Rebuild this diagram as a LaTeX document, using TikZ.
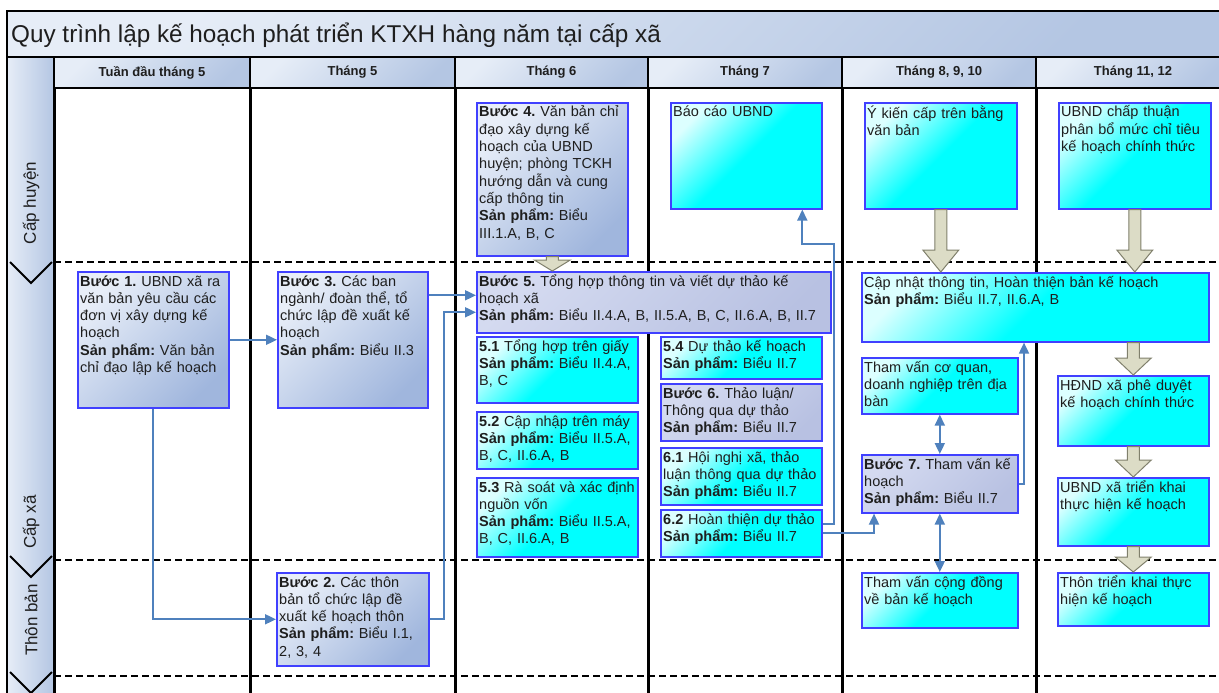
\documentclass[tikz,border=0pt]{standalone}
\usepackage{fontspec}
\setmainfont{Liberation Sans}
\usetikzlibrary{arrows.meta,calc}

\definecolor{boxblue}{RGB}{64,64,255}
\definecolor{steellight}{RGB}{232,238,248}
\definecolor{steeldark}{RGB}{160,182,221}
\definecolor{lavlight}{RGB}{212,218,240}
\definecolor{lavdark}{RGB}{184,193,226}
\definecolor{cyanlight}{RGB}{220,255,255}
\definecolor{headlight}{RGB}{230,237,247}
\definecolor{headdark}{RGB}{180,198,227}
\definecolor{connblue}{RGB}{79,129,189}
\definecolor{khaki}{RGB}{220,220,198}
\definecolor{khakiline}{RGB}{128,128,108}
\definecolor{inkgray}{RGB}{30,30,30}

\tikzset{
  frameline/.style={black, line width=2pt},
  colline/.style={black, line width=3pt},
  rowline/.style={black, line width=2.6pt, dash pattern=on 7pt off 4pt},
  headcell/.style={draw=black, line width=2pt, top color=headlight, bottom color=headdark, shading angle=45,
    inner sep=0pt, minimum height=31pt, font=\fontsize{13}{15}\selectfont\bfseries, text=inkgray},
  lanelabel/.style={rotate=90, inner sep=0pt, font=\fontsize{17}{20}\selectfont, text=inkgray},
  chevron/.style={black, line width=2pt, line join=miter},
  stepbox/.style={draw=boxblue, line width=1.6pt, top color=steellight, bottom color=steeldark, shading angle=45,
    anchor=north west, inner sep=0pt},
  substep/.style={stepbox, top color=lavlight, bottom color=lavdark, shading angle=45},
  cyanbox/.style={stepbox, top color=cyanlight, bottom color=cyan, middle color=cyan, shading angle=45},
  boxtext/.style={anchor=base west, align=left, text width=360pt, inner sep=0pt,
    font=\fontsize{14.5}{17.3}\selectfont\frenchspacing, text=inkgray},
  conn/.style={draw=connblue, line width=1.8pt, arrows={-Triangle[length=11pt,width=10pt]}},
  conn2/.style={draw=connblue, line width=1.8pt, arrows={Triangle[length=11pt,width=10pt]-Triangle[length=11pt,width=10pt]}},
  bigarrow/.style={fill=khaki, draw=khakiline, line width=1pt, line join=miter}
}

% wide khaki arrow between two boxes
\newcommand{\blockarrow}[3][18pt]{%
  \filldraw[bigarrow] let \p1=(#2), \p2=(#3) in
    (\x1-6pt,\y1) -- (\x1-6pt,\y2+#1) -- (\x1-18pt,\y2+#1) -- (\x1,\y2)
    -- (\x1+18pt,\y2+#1) -- (\x1+6pt,\y2+#1) -- (\x1+6pt,\y1) -- cycle;}

\begin{document}
\begin{tikzpicture}[x=1pt, y=-1pt]
  \useasboundingbox (0,0) rectangle (1219,693);
  \clip (0,0) rectangle (1219,693);

  % Title bar
  \draw[frameline, top color=headlight, bottom color=headdark, shading angle=45] (7,11) rectangle (1240,57);
  \node[anchor=base west, inner sep=0pt, font=\fontsize{24.3}{28}\selectfont, text=inkgray] (title)
    at (11,43) {Quy trình lập kế hoạch phát triển KTXH hàng năm tại cấp xã};

  % Lane column
  \draw[frameline, left color=headlight, right color=headdark] (7,57) rectangle (54,700);
  \node[lanelabel] (lhuyen) at (31,203) {Cấp huyện};
  \node[lanelabel] (lxa) at (31,522) {Cấp xã};
  \node[lanelabel] (lthon) at (31,620) {Thôn bản};
  \foreach \yv in {262,556,672}
    \draw[chevron] (10,\yv) -- (31,\yv+21) -- (52,\yv);

  % Columns
  \foreach \xc in {54,250,455,648,842,1036}
    \draw[colline] (\xc,88) -- (\xc,700);
  \foreach \yr in {262,560,676}
    \draw[rowline] (54,\yr) -- (1219,\yr);
  \foreach \xa/\xb/\hname/\htext in {%
    54/250/t5a/Tuần đầu tháng 5,%
    250/455/t5/Tháng 5,%
    455/648/t6/Tháng 6,%
    648/842/t7/Tháng 7,%
    842/1036/t8/{Tháng 8, 9, 10},%
    1036/1230/t11/{Tháng 11, 12}%
  }{
    \node[headcell, minimum width={\xb-\xa}] (h\hname) at ({(\xa+\xb)/2},72.5) {\htext};
  }

  % Cap huyen
  \node[stepbox, minimum width=151pt, minimum height=153pt] (b4) at (476,102) {};
  \node[cyanbox, minimum width=151pt, minimum height=106pt] (bc) at (670,102) {};
  \node[cyanbox, minimum width=152pt, minimum height=106pt] (yk) at (864,102) {};
  \node[cyanbox, minimum width=152pt, minimum height=106pt] (ct) at (1058,102) {};

  % Cap xa
  \node[stepbox, minimum width=151pt, minimum height=136pt] (b1) at (77,271) {};
  \node[stepbox, minimum width=150pt, minimum height=136pt] (b3) at (277,271) {};
  \node[substep, minimum width=354pt, minimum height=61pt] (b5) at (476,271) {};
  \node[cyanbox, minimum width=161pt, minimum height=66pt] (b51) at (476,336) {};
  \node[cyanbox, minimum width=161pt, minimum height=57pt] (b52) at (476,411) {};
  \node[cyanbox, minimum width=161pt, minimum height=79pt] (b53) at (476,477) {};
  \node[cyanbox, minimum width=161pt, minimum height=42pt] (b54) at (660,336) {};
  \node[substep, minimum width=161pt, minimum height=57pt] (b6) at (660,383) {};
  \node[cyanbox, minimum width=161pt, minimum height=57pt] (b61) at (660,447) {};
  \node[cyanbox, minimum width=161pt, minimum height=47pt] (b62) at (660,509) {};
  \node[cyanbox, minimum width=347pt, minimum height=69pt] (cn) at (861,272) {};
  \node[cyanbox, minimum width=156pt, minimum height=56pt] (tvcq) at (861,357) {};
  \node[substep, minimum width=156pt, minimum height=58pt] (b7) at (861,454) {};
  \node[cyanbox, minimum width=151pt, minimum height=70pt] (hd) at (1057,375) {};
  \node[cyanbox, minimum width=151pt, minimum height=68pt] (ubtk) at (1057,477) {};

  % Thon ban
  \node[stepbox, minimum width=152pt, minimum height=93pt] (b2) at (276,572) {};
  \node[cyanbox, minimum width=156pt, minimum height=55pt] (tvcd) at (861,572) {};
  \node[cyanbox, minimum width=151pt, minimum height=53pt] (thontk) at (1057,572) {};

  % Box texts
  \node[boxtext] (tb4) at ([xshift=3pt,yshift=-15pt]b4.north west) {\textbf{Bước 4.} Văn bản chỉ\\đạo xây dựng kế\\hoạch của UBND\\huyện; phòng TCKH\\hướng dẫn và cung\\cấp thông tin\\\textbf{Sản phẩm:} Biểu\\III.1.A, B, C};
  \node[boxtext] (tbc) at ([xshift=3pt,yshift=-15pt]bc.north west) {Báo cáo UBND};
  \node[boxtext] (tyk) at ([xshift=3pt,yshift=-16pt]yk.north west) {Ý kiến cấp trên bằng\\văn bản};
  \node[boxtext] (tct) at ([xshift=3pt,yshift=-15pt]ct.north west) {UBND chấp thuận\\phân bổ mức chỉ tiêu\\kế hoạch chính thức};
  \node[boxtext] (tb1) at ([xshift=3pt,yshift=-15pt]b1.north west) {\textbf{Bước 1.} UBND xã ra\\văn bản yêu cầu các\\đơn vị xây dựng kế\\hoạch\\\textbf{Sản phẩm:} Văn bản\\chỉ đạo lập kế hoạch};
  \node[boxtext] (tb3) at ([xshift=3pt,yshift=-15pt]b3.north west) {\textbf{Bước 3.} Các ban\\ngành/ đoàn thể, tổ\\chức lập đề xuất kế\\hoạch\\\textbf{Sản phẩm:} Biểu II.3};
  \node[boxtext] (tb5) at ([xshift=3pt,yshift=-15pt]b5.north west) {\textbf{Bước 5.} Tổng hợp thông tin và viết dự thảo kế\\hoạch xã\\\textbf{Sản phẩm:} Biểu II.4.A, B, II.5.A, B, C, II.6.A, B, II.7};
  \node[boxtext] (tb51) at ([xshift=3pt,yshift=-15pt]b51.north west) {\textbf{5.1} Tổng hợp trên giấy\\\textbf{Sản phẩm:} Biểu II.4.A,\\B, C};
  \node[boxtext] (tb52) at ([xshift=3pt,yshift=-15pt]b52.north west) {\textbf{5.2} Cập nhập trên máy\\\textbf{Sản phẩm:} Biểu II.5.A,\\B, C, II.6.A, B};
  \node[boxtext] (tb53) at ([xshift=3pt,yshift=-15pt]b53.north west) {\textbf{5.3} Rà soát và xác định\\nguồn vốn\\\textbf{Sản phẩm:} Biểu II.5.A,\\B, C, II.6.A, B};
  \node[boxtext] (tb54) at ([xshift=3pt,yshift=-15pt]b54.north west) {\textbf{5.4} Dự thảo kế hoạch\\\textbf{Sản phẩm:} Biểu II.7};
  \node[boxtext] (tb6) at ([xshift=3pt,yshift=-15pt]b6.north west) {\textbf{Bước 6.} Thảo luận/\\Thông qua dự thảo\\\textbf{Sản phẩm:} Biểu II.7};
  \node[boxtext] (tb61) at ([xshift=3pt,yshift=-15pt]b61.north west) {\textbf{6.1} Hội nghị xã, thảo\\luận thông qua dự thảo\\\textbf{Sản phẩm:} Biểu II.7};
  \node[boxtext] (tb62) at ([xshift=3pt,yshift=-15pt]b62.north west) {\textbf{6.2} Hoàn thiện dự thảo\\\textbf{Sản phẩm:} Biểu II.7};
  \node[boxtext] (tcn) at ([xshift=3pt,yshift=-15pt]cn.north west) {Cập nhật thông tin, Hoàn thiện bản kế hoạch\\\textbf{Sản phẩm:} Biểu II.7, II.6.A, B};
  \node[boxtext] (ttvcq) at ([xshift=3pt,yshift=-15pt]tvcq.north west) {Tham vấn cơ quan,\\doanh nghiệp trên địa\\bàn};
  \node[boxtext] (tb7) at ([xshift=3pt,yshift=-15pt]b7.north west) {\textbf{Bước 7.} Tham vấn kế\\hoạch\\\textbf{Sản phẩm:} Biểu II.7};
  \node[boxtext] (thd) at ([xshift=3pt,yshift=-15pt]hd.north west) {HĐND xã phê duyệt\\kế hoạch chính thức};
  \node[boxtext] (tubtk) at ([xshift=3pt,yshift=-15pt]ubtk.north west) {UBND xã triển khai\\thực hiện kế hoạch};
  \node[boxtext] (tb2) at ([xshift=3pt,yshift=-15pt]b2.north west) {\textbf{Bước 2.} Các thôn\\bản tổ chức lập đề\\xuất kế hoạch thôn\\\textbf{Sản phẩm:} Biểu I.1,\\2, 3, 4};
  \node[boxtext] (ttvcd) at ([xshift=3pt,yshift=-15pt]tvcd.north west) {Tham vấn cộng đồng\\về bản kế hoạch};
  \node[boxtext] (tthontk) at ([xshift=3pt,yshift=-15pt]thontk.north west) {Thôn triển khai thực\\hiện kế hoạch};

  % Connectors
  \coordinate (in5a) at ([yshift=7pt]b5.west);
  \coordinate (in5b) at ([yshift=-10pt]b5.west);
  \coordinate (bcin) at ([xshift=56pt]bc.south);
  \coordinate (cnin) at ([xshift=163pt]cn.south west);
  \draw[conn] (b1.east) -- (b3.west);
  \draw[conn] (b1.south) |- (b2.west);
  \draw[conn] (b3.east |- in5a) -- (in5a);
  \draw[conn] (b2.east) -- ++(14,0) |- (in5b);
  \draw[conn] ([yshift=9pt]b62.east) -| ([xshift=32pt,yshift=-34pt]bcin) -| (bcin);
  \draw[conn] (b62.east) -| ([xshift=13pt]b7.south west);
  \draw[conn] (b7.east) -| (cnin);
  \draw[conn2] (tvcq.south) -- (b7.north);
  \draw[conn2] (b7.south) -- (tvcd.north);

  % Block arrows
  \blockarrow[11pt]{b4.south}{b4.south |- b5.north}
  \blockarrow[22pt]{yk.south}{yk.south |- cn.north}
  \blockarrow[22pt]{ct.south}{ct.south |- cn.north}
  \blockarrow[17pt]{cn.south -| hd.north}{hd.north}
  \blockarrow[17pt]{hd.south}{ubtk.north}
  \blockarrow[15pt]{ubtk.south}{thontk.north}
\end{tikzpicture}
\end{document}
